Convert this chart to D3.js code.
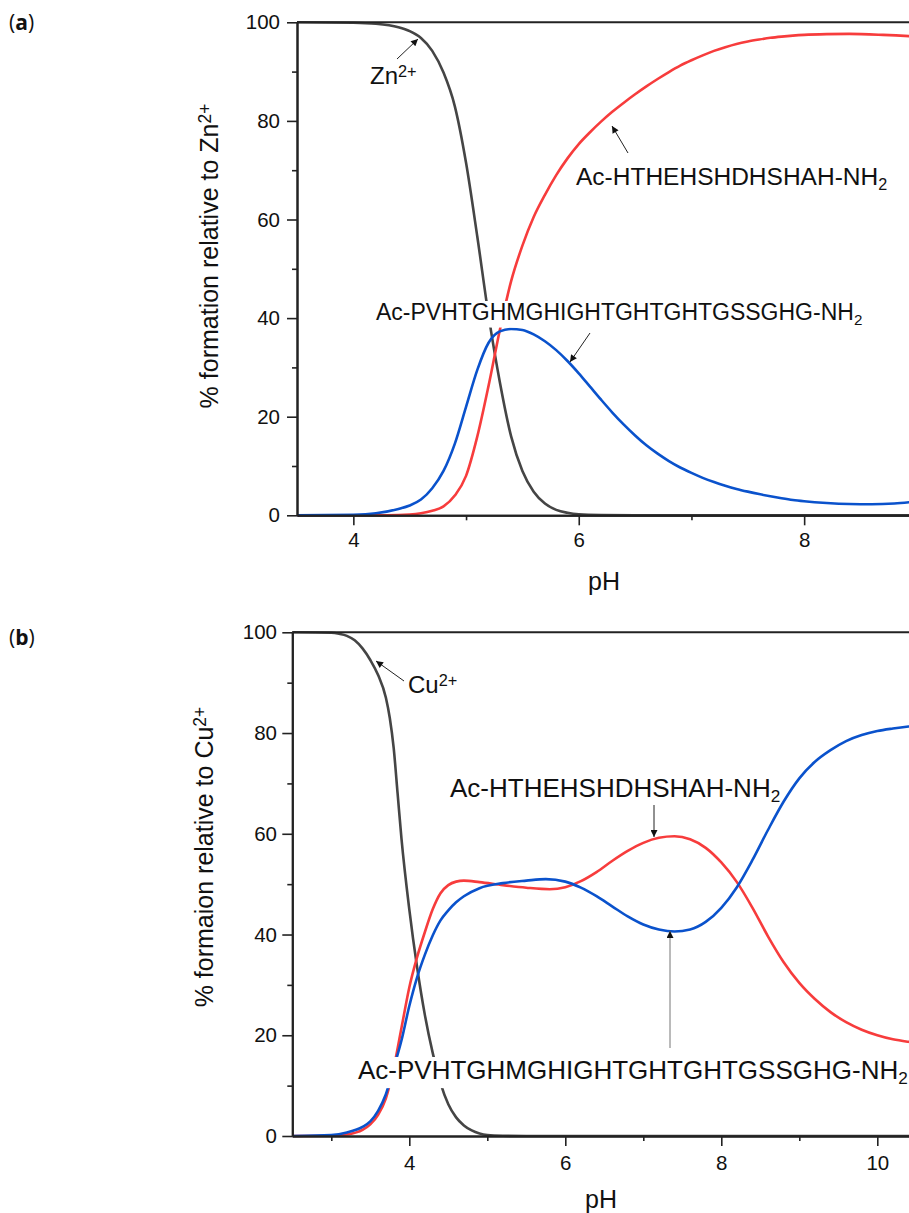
<!DOCTYPE html>
<html><head><meta charset="utf-8">
<script src="https://cdn.jsdelivr.net/npm/d3@7"></script>
<style>html,body{margin:0;padding:0;background:#fff}</style>
</head><body><svg id="c" width="909" height="1213"></svg>
<script>
// ---------- data ----------
const yTicks = [0, 20, 40, 60, 80, 100];
const yMinor = [10, 30, 50, 70, 90];
const xTicksA = [4, 6, 8];
const xMinorA = [5, 7, 9];
const xTicksB = [4, 6, 8, 10];
const xMinorB = [3, 5, 7, 9, 11];

// Panel (a) – Zn2+
const znPH  = [3.5, 4.0, 4.2, 4.4, 4.5, 4.6, 4.7, 4.8, 4.9, 5.0, 5.1, 5.2, 5.3, 5.4, 5.5, 5.6, 5.7, 5.8, 5.9, 6.0, 6.2, 6.5, 7.0, 8.0, 9.5];
const znPct = [100, 99.9, 99.7, 99.0, 98.2, 96.8, 94.2, 89.8, 83.0, 71.5, 56.5, 40.5, 27.0, 16.0, 9.0, 4.8, 2.4, 1.1, 0.5, 0.2, 0.05, 0, 0, 0, 0];

const redAPH  = [3.5, 4.3, 4.5, 4.6, 4.7, 4.8, 4.9, 5.0, 5.1, 5.2, 5.3, 5.4, 5.5, 5.6, 5.7, 5.8, 5.9, 6.0, 6.1, 6.2, 6.3, 6.4, 6.5, 6.6, 6.7, 6.8, 6.9, 7.0, 7.1, 7.2, 7.3, 7.4, 7.5, 7.6, 7.7, 7.8, 7.9, 8.0, 8.2, 8.4, 8.7, 9.0, 9.5];
const redAPct = [0, 0, 0.15, 0.4, 0.9, 1.8, 4.0, 8.0, 16.0, 26.3, 37.6, 47.5, 54.7, 60.5, 65.0, 69.0, 72.4, 75.3, 77.7, 79.9, 81.9, 83.7, 85.4, 87.0, 88.5, 89.9, 91.2, 92.3, 93.3, 94.2, 94.95, 95.6, 96.1, 96.5, 96.85, 97.1, 97.3, 97.45, 97.6, 97.65, 97.45, 97.1, 96.2];

const blueAPH  = [3.5, 4.0, 4.2, 4.4, 4.5, 4.6, 4.7, 4.8, 4.9, 5.0, 5.1, 5.2, 5.3, 5.4, 5.5, 5.6, 5.7, 5.8, 5.9, 6.0, 6.1, 6.2, 6.3, 6.4, 6.5, 6.6, 6.7, 6.8, 6.9, 7.0, 7.1, 7.2, 7.3, 7.4, 7.5, 7.6, 7.7, 7.8, 7.9, 8.0, 8.2, 8.4, 8.6, 8.8, 9.0, 9.2, 9.5];
const blueAPct = [0, 0.1, 0.4, 1.3, 2.0, 3.2, 5.5, 9.0, 14.5, 22.0, 29.5, 35.0, 37.3, 37.8, 37.6, 36.7, 35.3, 33.5, 31.3, 28.8, 26.1, 23.4, 20.8, 18.4, 16.2, 14.2, 12.5, 11.0, 9.7, 8.6, 7.6, 6.75, 6.0, 5.35, 4.8, 4.3, 3.85, 3.45, 3.1, 2.85, 2.5, 2.3, 2.25, 2.4, 2.8, 3.3, 4.2];

// Panel (b) – Cu2+
const cuPH  = [2.5, 3.0, 3.1, 3.2, 3.3, 3.4, 3.5, 3.6, 3.7, 3.75, 3.8, 3.85, 3.9, 4.0, 4.1, 4.2, 4.3, 4.4, 4.5, 4.6, 4.7, 4.8, 4.9, 5.0, 5.2, 5.5, 11.0];
const cuPct = [100, 99.9, 99.7, 99.3, 98.4, 96.8, 94.5, 91.5, 87.0, 83.0, 77.0, 68.0, 59.0, 45.0, 33.5, 24.0, 16.5, 10.5, 6.3, 3.7, 2.1, 1.1, 0.5, 0.2, 0.05, 0, 0];

const redBPH  = [2.5, 3.0, 3.2, 3.4, 3.5, 3.6, 3.7, 3.8, 3.9, 4.0, 4.1, 4.2, 4.3, 4.4, 4.5, 4.6, 4.7, 4.9, 5.2, 5.5, 5.8, 6.0, 6.2, 6.4, 6.6, 6.8, 7.0, 7.2, 7.4, 7.6, 7.8, 8.0, 8.2, 8.4, 8.6, 8.8, 9.0, 9.2, 9.4, 9.6, 9.8, 10.0, 10.2, 10.4, 10.7, 11.0];
const redBPct = [0, 0.05, 0.3, 1.2, 2.3, 4.2, 7.5, 13.5, 21.5, 29.5, 35.5, 40.5, 45.0, 48.2, 49.8, 50.5, 50.7, 50.4, 49.8, 49.3, 49.0, 49.4, 50.6, 52.4, 54.6, 56.6, 58.2, 59.2, 59.5, 58.9, 57.2, 54.3, 50.4, 45.3, 39.6, 34.5, 30.4, 27.2, 24.6, 22.6, 21.1, 20.0, 19.2, 18.7, 18.2, 17.9];

const blueBPH  = [2.5, 3.0, 3.2, 3.4, 3.5, 3.6, 3.7, 3.8, 3.9, 4.0, 4.1, 4.2, 4.3, 4.4, 4.5, 4.6, 4.7, 4.9, 5.2, 5.5, 5.75, 6.0, 6.2, 6.4, 6.6, 6.8, 7.0, 7.2, 7.4, 7.6, 7.8, 8.0, 8.2, 8.4, 8.6, 8.8, 9.0, 9.2, 9.4, 9.6, 9.8, 10.0, 10.2, 10.4, 10.7, 11.0];
const blueBPct = [0, 0.2, 0.7, 1.8, 2.9, 5.0, 8.3, 13.5, 19.0, 25.8, 31.5, 36.0, 39.8, 42.8, 44.8, 46.4, 47.6, 49.2, 50.2, 50.7, 51.0, 50.5, 49.3, 47.6, 45.6, 43.6, 42.0, 41.0, 40.6, 41.0, 42.5, 45.3, 49.4, 54.8, 60.8, 66.4, 71.0, 74.3, 76.6, 78.4, 79.6, 80.4, 80.9, 81.3, 81.7, 82.0];

// ---------- drawing ----------
const FONT = "'Liberation Sans', Arial, Helvetica, sans-serif";
const GRAY = "#454545", RED = "#f73c3c", BLUE = "#0a52cc";
const svg = d3.select("#c");

const defs = svg.append("defs");
defs.append("marker").attr("id", "ah").attr("viewBox", "0 0 10 10")
  .attr("refX", 10).attr("refY", 5).attr("markerWidth", 11).attr("markerHeight", 7)
  .attr("markerUnits", "userSpaceOnUse").attr("orient", "auto")
  .append("path").attr("d", "M0,0 L10,5 L0,10 Z").attr("fill", "#111");

function zip(a, b) { return a.map((v, i) => [v, b[i]]); }

function panel(o) {
  const x = d3.scaleLinear().domain(o.xDomain).range(o.xRange);
  const y = d3.scaleLinear().domain([0, 100]).range(o.yRange);
  const g = svg.append("g");

  // curves
  const line = d3.line().x(d => x(d[0])).y(d => y(d[1])).curve(d3.curveMonotoneX);
  o.series.forEach(s => {
    g.append("path").datum(zip(s.ph, s.v)).attr("d", line)
      .attr("fill", "none").attr("stroke", s.color).attr("stroke-width", 2.6)
      .attr("stroke-linejoin", "round");
  });

  // axes
  const ax = d3.axisBottom(x).tickValues(o.xTicks).tickSize(10).tickSizeOuter(0).tickPadding(o.xPad).tickFormat(d3.format("d"));
  const axm = d3.axisBottom(x).tickValues(o.xMinor).tickSize(5).tickSizeOuter(0).tickFormat("");
  const ay = d3.axisLeft(y).tickValues(yTicks).tickSize(10).tickSizeOuter(0).tickPadding(o.yPad).tickFormat(d3.format("d"));
  const aym = d3.axisLeft(y).tickValues(yMinor).tickSize(5).tickSizeOuter(0).tickFormat("");
  g.append("g").attr("transform", `translate(0,${y(0)})`).call(ax);
  g.append("g").attr("transform", `translate(0,${y(0)})`).call(axm);
  g.append("g").attr("transform", `translate(${x(o.xDomain[0])},0)`).call(ay);
  g.append("g").attr("transform", `translate(${x(o.xDomain[0])},0)`).call(aym);
  g.selectAll(".domain").attr("stroke", "#222").attr("stroke-width", 2);
  g.selectAll(".tick line").attr("stroke", "#222").attr("stroke-width", 1.6);
  g.selectAll(".tick text").attr("font-family", FONT).attr("font-size", o.tickFont).attr("fill", "#111");
  // top frame
  g.append("line").attr("x1", x(o.xDomain[0])).attr("x2", x(o.xDomain[1]))
    .attr("y1", y(100)).attr("y2", y(100)).attr("stroke", "#222").attr("stroke-width", 2);

  // axis titles
  g.append("text").attr("x", o.pHx).attr("y", o.pHy).attr("text-anchor", "middle")
    .attr("font-family", FONT).attr("font-size", 25).attr("fill", "#111").text("pH");
  const yt = g.append("text").attr("transform", `translate(${o.ytX},${o.ytY}) rotate(-90)`)
    .attr("text-anchor", "middle").attr("font-family", FONT).attr("font-size", 25).attr("fill", "#111");
  yt.append("tspan").text(o.yTitle);
  yt.append("tspan").attr("dy", "-0.42em").attr("font-size", 17.5).text("2+");

  // panel letter
  const pl = svg.append("text").attr("x", 9).attr("y", o.letterY)
    .attr("font-family", "'Open Sans', 'Noto Sans', sans-serif").attr("font-size", 21).attr("fill", "#111");
  pl.append("tspan").text("(");
  pl.append("tspan").attr("font-weight", "bold").text(o.letter);
  pl.append("tspan").text(")");

  // annotations
  o.labels.forEach(l => {
    const t = g.append("text").attr("x", l.x).attr("y", l.y)
      .attr("font-family", FONT).attr("font-size", l.size).attr("fill", "#111");
    t.append("tspan").text(l.main);
    if (l.sup) t.append("tspan").attr("dy", "-0.45em").attr("font-size", l.size * 0.68).text(l.sup);
    if (l.sub) t.append("tspan").attr("dy", "0.3em").attr("font-size", l.size * 0.66).text(l.sub);
    if (l.bg) {
      const b = t.node().getBBox();
      g.insert("rect", () => t.node()).attr("x", b.x - 2).attr("y", b.y + 2)
        .attr("width", b.width + 4).attr("height", b.height - 2).attr("fill", "#fff");
    }
  });
  o.arrows.forEach(a => {
    g.append("line").attr("x1", a[0]).attr("y1", a[1]).attr("x2", a[2]).attr("y2", a[3])
      .attr("stroke", a[4] || "#222").attr("stroke-width", 1).attr("marker-end", "url(#ah)");
  });
}

panel({
  xDomain: [3.5, 9.5], xRange: [297, 297 + 6 * 112.7], yRange: [515.3, 22.3],
  xTicks: xTicksA, xMinor: xMinorA, xPad: 7.5, yPad: 7, tickFont: 20.5,
  series: [
    { ph: znPH, v: znPct, color: GRAY },
    { ph: redAPH, v: redAPct, color: RED },
    { ph: blueAPH, v: blueAPct, color: BLUE }
  ],
  pHx: 604, pHy: 590, ytX: 218, ytY: 256, yTitle: "% formation relative to Zn",
  letter: "a", letterY: 30,
  labels: [
    { x: 370, y: 84, size: 24, main: "Zn", sup: "2+" },
    { x: 576, y: 185, size: 24.5, main: "Ac-HTHEHSHDHSHAH-NH", sub: "2" },
    { x: 376, y: 320, size: 23, main: "Ac-PVHTGHMGHIGHTGHTGHTGSSGHG-NH", sub: "2", bg: true }
  ],
  arrows: [[397, 59, 418, 39], [628, 153, 612, 126], [590, 333, 570, 362]]
});

panel({
  xDomain: [2.5, 11], xRange: [292.3, 292.3 + 8.5 * 78], yRange: [1136, 632.3],
  xTicks: xTicksB, xMinor: xMinorB, xPad: 9.8, yPad: 5.3, tickFont: 20.5,
  series: [
    { ph: cuPH, v: cuPct, color: GRAY },
    { ph: redBPH, v: redBPct, color: RED },
    { ph: blueBPH, v: blueBPct, color: BLUE }
  ],
  pHx: 601, pHy: 1208, ytX: 213, ytY: 857, yTitle: "% formaion relative to Cu",
  letter: "b", letterY: 645,
  labels: [
    { x: 408, y: 693, size: 24, main: "Cu", sup: "2+" },
    { x: 450, y: 797, size: 26, main: "Ac-HTHEHSHDHSHAH-NH", sub: "2" },
    { x: 358, y: 1079, size: 26, main: "Ac-PVHTGHMGHIGHTGHTGHTGSSGHG-NH", sub: "2", bg: true }
  ],
  arrows: [[404, 681, 376, 661], [654, 805, 654, 837], [670, 1048, 670, 931, "#777"]]
});
</script>
</body></html>
